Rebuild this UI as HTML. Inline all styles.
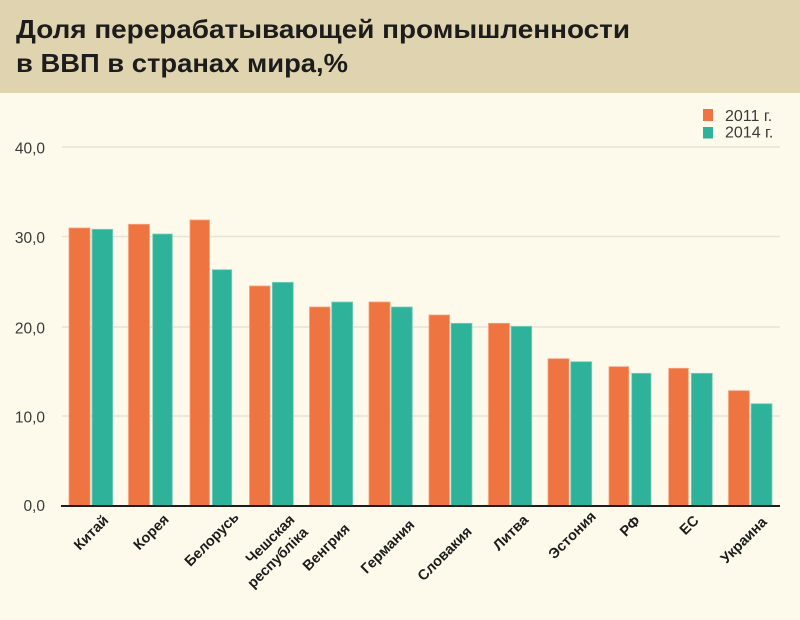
<!DOCTYPE html>
<html><head><meta charset="utf-8"><style>
html,body{margin:0;padding:0;background:#fdfaec;}
svg{display:block;}
</style></head><body>
<svg width="800" height="620" viewBox="0 0 800 620" xmlns="http://www.w3.org/2000/svg">
<rect x="0" y="0" width="800" height="620" fill="#fdfaec"/>
<rect x="0" y="0" width="800" height="93" fill="#e0d4b0"/>
<g font-family="'Liberation Sans', 'Noto Sans CJK SC', sans-serif" font-weight="bold" font-size="26" fill="#1c1c1c">
<text x="16" y="38" textLength="614" lengthAdjust="spacingAndGlyphs">Доля перерабатывающей промышленности</text>
<text x="16" y="72" textLength="332" lengthAdjust="spacingAndGlyphs">в ВВП в странах мира,%</text>
</g>
<!-- gridlines -->
<g stroke="#e8e3d3" stroke-width="1.5">
<line x1="62" y1="147" x2="780" y2="147"/>
<line x1="62" y1="236.5" x2="780" y2="236.5"/>
<line x1="62" y1="327" x2="780" y2="327"/>
<line x1="62" y1="416" x2="780" y2="416"/>
</g>
<g font-family="'Liberation Sans', sans-serif" font-size="15.5" fill="#3a3a3a" text-anchor="end">
<text x="45" y="153.5">40,0</text>
<text x="45" y="243">30,0</text>
<text x="45" y="333.5">20,0</text>
<text x="45" y="422.5">10,0</text>
<text x="45" y="511">0,0</text>
</g>
<!-- bars -->
<g stroke-width="0.8">
<g fill="#ee7542" stroke="#f5a27c">
<rect x="69" y="228" width="21" height="278"/>
<rect x="128.5" y="224.3" width="21" height="281.7"/>
<rect x="190" y="220" width="19.5" height="286"/>
<rect x="249.5" y="286" width="20.5" height="220"/>
<rect x="309.5" y="307" width="20.5" height="199"/>
<rect x="369" y="302" width="21" height="204"/>
<rect x="429" y="315" width="20.5" height="191"/>
<rect x="488.5" y="323.3" width="21" height="182.7"/>
<rect x="548" y="358.7" width="21" height="147.3"/>
<rect x="609" y="366.7" width="19.7" height="139.3"/>
<rect x="668.7" y="368.3" width="19.6" height="137.7"/>
<rect x="728.5" y="390.7" width="20.8" height="115.3"/>
</g>
<g fill="#2eb39a" stroke="#7fd0bf">
<rect x="92" y="229.3" width="20.7" height="276.7"/>
<rect x="152.7" y="234" width="19.6" height="272"/>
<rect x="212.3" y="269.7" width="19.4" height="236.3"/>
<rect x="272.3" y="282.3" width="21" height="223.7"/>
<rect x="331.7" y="302" width="21" height="204"/>
<rect x="391.3" y="307" width="21" height="199"/>
<rect x="451" y="323.3" width="21" height="182.7"/>
<rect x="511" y="326.3" width="20.7" height="179.7"/>
<rect x="570.7" y="361.7" width="21" height="144.3"/>
<rect x="631.7" y="373.3" width="19.3" height="132.7"/>
<rect x="691.3" y="373.3" width="21" height="132.7"/>
<rect x="751" y="403.7" width="21" height="102.3"/>
</g>
</g>
<line x1="61" y1="506" x2="780" y2="506" stroke="#1e1e1e" stroke-width="2"/>
<!-- legend -->
<rect x="703" y="109" width="10" height="12" fill="#ee7542"/>
<rect x="703" y="127" width="10" height="11.5" fill="#2eb39a"/>
<g font-family="'Liberation Sans', sans-serif" font-size="16" fill="#3a3a3a">
<text x="725" y="121">2011 г.</text>
<text x="725" y="137.5">2014 г.</text>
</g>
<!-- x labels -->
<g font-family="'Liberation Sans', 'Noto Sans CJK SC', sans-serif" font-weight="bold" font-size="14.5" fill="#1c1c1c" text-anchor="middle">
<text x="91" y="532.5" dy="5" transform="rotate(-45 91 532.5)">Китай</text>
<text x="151" y="532" dy="5" transform="rotate(-45 151 532)">Корея</text>
<text x="211.5" y="539" dy="5" transform="rotate(-45 211.5 539)">Белорусь</text>
<text x="270" y="539" dy="5" transform="rotate(-45 270 539)">Чешская</text>
<text x="277.5" y="557.5" dy="5" transform="rotate(-45 277.5 557.5)">республіка</text>
<text x="326" y="547" dy="5" transform="rotate(-45 326 547)">Венгрия</text>
<text x="387.5" y="546.5" dy="5" transform="rotate(-45 387.5 546.5)">Германия</text>
<text x="444.5" y="553.5" dy="5" transform="rotate(-45 444.5 553.5)">Словакия</text>
<text x="510.5" y="532.5" dy="5" transform="rotate(-45 510.5 532.5)">Литва</text>
<text x="572" y="535" dy="5" transform="rotate(-45 572 535)">Эстония</text>
<text x="630" y="526" dy="5" transform="rotate(-45 630 526)">РФ</text>
<text x="689" y="525" dy="5" transform="rotate(-45 689 525)">ЕС</text>
<text x="743.5" y="540" dy="5" transform="rotate(-45 743.5 540)">Украина</text>
</g>
</svg>
</body></html>
